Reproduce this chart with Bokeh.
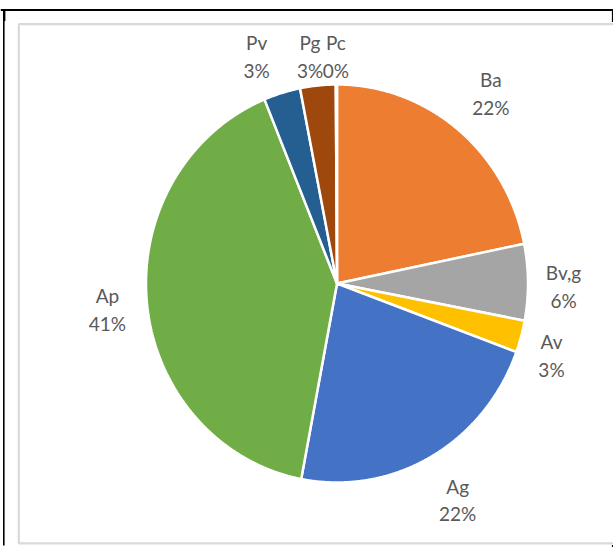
import numpy as np
from bokeh.plotting import figure
from bokeh.models import Range1d, ColumnDataSource
from bokeh.core.properties import value
from bokeh.embed import file_html
from bokeh.resources import INLINE

# ---- data ----
categories = ["Ba", "Bv,g", "Av", "Ag", "Ap", "Pv", "Pg", "Pc"]
shares = [21.8, 6.2, 2.6, 22.4, 40.8, 3.1, 3.0, 0.1]

# ---- styles ----
colors = ["#ED7D31", "#A5A5A5", "#FFC000", "#4472C4", "#70AD47", "#255E91", "#9E480E", "#636363"]
label_factor = [1.25, 1.186, 1.18, 1.259, 1.209, 1.216, 1.149, 1.141]
label_angle_nudge = [0.9, 1.1, 2.4, -0.6, -0.4, -3.5, -1.3, -0.1]

W, H = 613, 547
CX, CY, RX, RY = 336.5, 283.0, 191.0, 199.0
FONT = value("Lato")
TXT = "#595959"

vals = np.array(shares, dtype=float)
frac = vals / vals.sum()
ends = np.cumsum(frac)
starts = ends - frac

xs, ys = [], []
for s, e in zip(starts, ends):
    n = max(3, int((e - s) * 1440) + 3)
    t = np.linspace(s * 2 * np.pi, e * 2 * np.pi, n)
    xs.append([CX] + list(CX + RX * np.sin(t)))
    ys.append([CY] + list(CY - RY * np.cos(t)))

pcts = [f"{int(round(f * 100))}%" for f in frac]
mid = (starts + ends) / 2 * 2 * np.pi + np.radians(label_angle_nudge)
lf = np.array(label_factor)
lx = CX + lf * RX * np.sin(mid)
ly = CY - lf * RY * np.cos(mid)
GAP = 13.7

p = figure(width=W, height=H, x_range=Range1d(0, W), y_range=Range1d(H, 0),
           output_backend="svg", toolbar_location=None, min_border=0,
           x_axis_type=None, y_axis_type=None, margin=(0, 0, 0, 0))
p.grid.visible = False
p.outline_line_color = None
p.background_fill_color = "white"
p.border_fill_color = "white"

# frame decorations
p.quad(left=[18.3], right=[W + 5], top=[23.7], bottom=[542.8],
       fill_color=None, line_color="#D9D9D9", line_width=2.2)
p.segment(x0=[0, 3.3, 3.8, 612.2, 612.2], y0=[9.5, 9, 9.5, 9, 544.5],
          x1=[612.8, 3.3, 3.8, 612.2, 612.2], y1=[9.5, 545, 20.5, 21.5, 547],
          line_color="black", line_width=[2, 1.6, 2.2, 1.6, 1.6])

src = ColumnDataSource(dict(xs=xs, ys=ys, color=colors, cat=categories))
p.patches("xs", "ys", source=src, fill_color="color", line_color="white", line_width=2.5)

lab = ColumnDataSource(dict(x=lx, y1=ly - GAP, y2=ly + GAP, name=categories, pct=pcts))
for ycol, tcol in (("y1", "name"), ("y2", "pct")):
    p.text(x="x", y=ycol, text=tcol, source=lab, text_font=FONT, text_font_size="19px",
           text_color=TXT, text_align="center", text_baseline="middle")

open("out.html", "w").write(file_html(p, INLINE))
